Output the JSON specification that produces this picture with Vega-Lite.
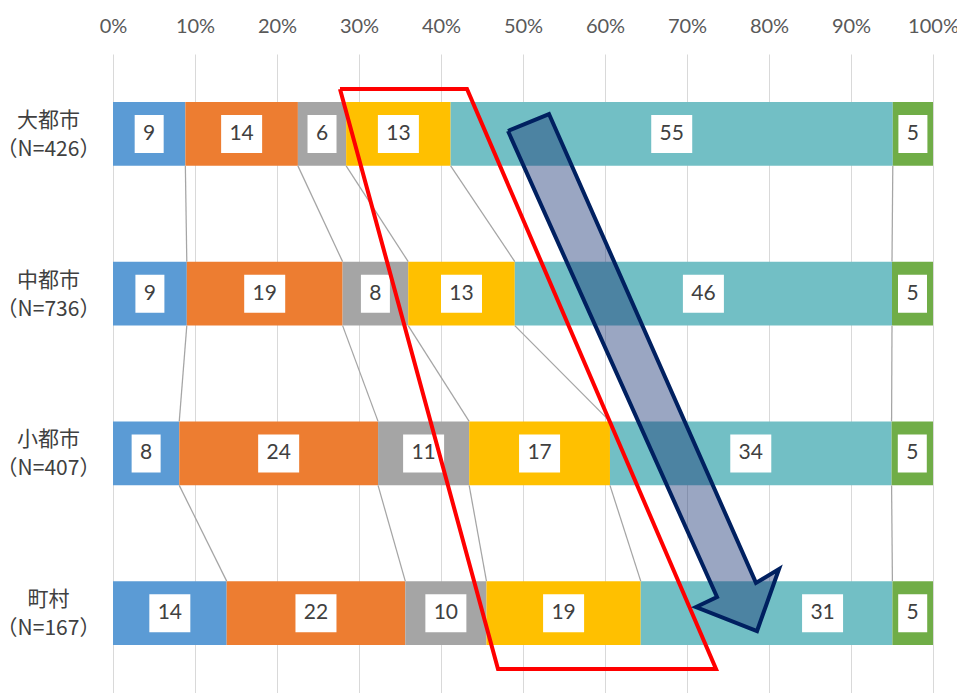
{
  "$schema": "https://vega.github.io/schema/vega-lite/v6.json",
  "width": 820,
  "height": 639,
  "autosize": {"type": "none"},
  "padding": {"left": 113, "top": 54, "right": 24, "bottom": 0},
  "background": "white",
  "config": {"view": {"stroke": null}, "font": "Lato"},
  "datasets": {
    "shares": [
      {"city": "大都市 （N=426）", "seg": 1, "value": 9},
      {"city": "大都市 （N=426）", "seg": 2, "value": 14},
      {"city": "大都市 （N=426）", "seg": 3, "value": 6},
      {"city": "大都市 （N=426）", "seg": 4, "value": 13},
      {"city": "大都市 （N=426）", "seg": 5, "value": 55},
      {"city": "大都市 （N=426）", "seg": 6, "value": 5},
      {"city": "中都市 （N=736）", "seg": 1, "value": 9},
      {"city": "中都市 （N=736）", "seg": 2, "value": 19},
      {"city": "中都市 （N=736）", "seg": 3, "value": 8},
      {"city": "中都市 （N=736）", "seg": 4, "value": 13},
      {"city": "中都市 （N=736）", "seg": 5, "value": 46},
      {"city": "中都市 （N=736）", "seg": 6, "value": 5},
      {"city": "小都市 （N=407）", "seg": 1, "value": 8},
      {"city": "小都市 （N=407）", "seg": 2, "value": 24},
      {"city": "小都市 （N=407）", "seg": 3, "value": 11},
      {"city": "小都市 （N=407）", "seg": 4, "value": 17},
      {"city": "小都市 （N=407）", "seg": 5, "value": 34},
      {"city": "小都市 （N=407）", "seg": 6, "value": 5},
      {"city": "町村 （N=167）", "seg": 1, "value": 14},
      {"city": "町村 （N=167）", "seg": 2, "value": 22},
      {"city": "町村 （N=167）", "seg": 3, "value": 10},
      {"city": "町村 （N=167）", "seg": 4, "value": 19},
      {"city": "町村 （N=167）", "seg": 5, "value": 31},
      {"city": "町村 （N=167）", "seg": 6, "value": 5}
    ],
    "outline": [
      {"i": 0, "x": 0.2768, "y": 0.719},
      {"i": 1, "x": 0.4317, "y": 0.719},
      {"i": 2, "x": 0.7354, "y": 4.35},
      {"i": 3, "x": 0.4695, "y": 4.35},
      {"i": 4, "x": 0.2768, "y": 0.719}
    ],
    "arrow": [
      {"i": 0, "x": 0.4817, "y": 0.982},
      {"i": 1, "x": 0.5317, "y": 0.876},
      {"i": 2, "x": 0.7841, "y": 3.811},
      {"i": 3, "x": 0.8122, "y": 3.724},
      {"i": 4, "x": 0.7854, "y": 4.112},
      {"i": 5, "x": 0.711, "y": 3.962},
      {"i": 6, "x": 0.7366, "y": 3.899},
      {"i": 7, "x": 0.4817, "y": 0.982}
    ]
  },
  "layer": [
    {
      "data": {"name": "shares"},
      "transform": [
        {"stack": "value", "groupby": ["city"], "sort": [{"field": "seg", "order": "ascending"}], "offset": "normalize", "as": ["x0", "x1"]},
        {"calculate": "(datum.x0 + datum.x1) / 2", "as": "xm"}
      ],
      "encoding": {
        "y": {
          "field": "city",
          "type": "nominal",
          "sort": null,
          "scale": {"paddingInner": 0.6, "paddingOuter": 0.3},
          "axis": {
            "title": null,
            "orient": "left",
            "domain": false,
            "ticks": false,
            "tickSize": 0,
            "labelExpr": "split(datum.label, ' ')",
            "labelAlign": "center",
            "labelBaseline": "middle",
            "labelPadding": 65,
            "labelOffset": -13,
            "labelFont": "Noto Sans CJK JP",
            "labelFontSize": 21,
            "labelLineHeight": 29,
            "labelColor": "#404040"
          }
        }
      },
      "layer": [
        {
          "mark": {"type": "bar"},
          "encoding": {
            "x": {
              "field": "x0",
              "type": "quantitative",
              "scale": {"domain": [0, 1], "nice": false, "zero": false},
              "axis": {
                "title": null,
                "orient": "top",
                "values": [0, 0.1, 0.2, 0.3, 0.4, 0.5, 0.6, 0.7, 0.8, 0.9, 1],
                "format": ".0%",
                "domain": false,
                "ticks": false,
                "tickSize": 0,
                "grid": true,
                "gridColor": "#D9D9D9",
                "gridWidth": 1,
                "labelFont": "Lato",
                "labelFontSize": 20,
                "labelColor": "#595959",
                "labelPadding": 18,
                "labelFlush": false
              }
            },
            "x2": {"field": "x1"},
            "color": {
              "field": "seg",
              "type": "nominal",
              "scale": {"domain": [1, 2, 3, 4, 5, 6], "range": ["#5B9BD5", "#ED7D31", "#A5A5A5", "#FFC000", "#72BFC5", "#70AD47"]},
              "legend": null
            }
          }
        },
        {
          "transform": [{"filter": "!(datum.city === '町村 （N=167）' && datum.seg === 5)"}],
          "layer": [
            {
              "mark": {"type": "point", "filled": true, "color": "white", "opacity": 1, "size": 1444, "strokeWidth": 0},
              "encoding": {
                "x": {"field": "xm", "type": "quantitative"},
                "shape": {
                  "condition": {"test": "datum.value >= 10", "value": "M-1.079,-1H1.079V1H-1.079Z"},
                  "value": "M-0.763,-1H0.763V1H-0.763Z"
                }
              }
            },
            {
              "mark": {"type": "text", "font": "Lato", "fontSize": 21, "color": "#404040", "baseline": "middle", "align": "center"},
              "encoding": {
                "x": {"field": "xm", "type": "quantitative"},
                "text": {"field": "value", "type": "quantitative"}
              }
            }
          ]
        },
        {
          "transform": [{"filter": "datum.city === '町村 （N=167）' && datum.seg === 5"}],
          "layer": [
            {
              "mark": {"type": "point", "filled": true, "color": "white", "opacity": 1, "size": 1444, "strokeWidth": 0, "xOffset": 56},
              "encoding": {
                "x": {"field": "xm", "type": "quantitative"},
                "shape": {"value": "M-1.079,-1H1.079V1H-1.079Z"}
              }
            },
            {
              "mark": {"type": "text", "font": "Lato", "fontSize": 21, "color": "#404040", "baseline": "middle", "align": "center", "xOffset": 56},
              "encoding": {
                "x": {"field": "xm", "type": "quantitative"},
                "text": {"field": "value", "type": "quantitative"}
              }
            }
          ]
        }
      ]
    },
    {
      "layer": [
        {
          "data": {"name": "shares"},
          "transform": [
            {"window": [{"op": "row_number", "as": "r"}], "groupby": ["seg"]},
            {"stack": "value", "groupby": ["city"], "sort": [{"field": "seg", "order": "ascending"}], "offset": "normalize", "as": ["x0", "x1"]},
            {"window": [{"op": "lead", "field": "x1", "as": "nx1"}, {"op": "lead", "field": "r", "as": "nr"}], "groupby": ["seg"], "sort": [{"field": "r", "order": "ascending"}]},
            {"filter": "datum.nr != null && datum.seg < 6"}
          ],
          "mark": {"type": "rule", "color": "#A5A5A5", "strokeWidth": 1.25, "yOffset": 32, "y2Offset": -32},
          "encoding": {
            "x": {"field": "x1", "type": "quantitative"},
            "x2": {"field": "nx1"},
            "y": {"field": "r", "type": "quantitative", "scale": {"domain": [0.5, 4.5], "reverse": true, "nice": false, "zero": false}, "axis": null},
            "y2": {"field": "nr"}
          }
        },
        {
          "data": {"name": "outline"},
          "mark": {"type": "line", "stroke": "#FF0000", "strokeWidth": 4, "strokeJoin": "miter"},
          "encoding": {
            "x": {"field": "x", "type": "quantitative"},
            "y": {"field": "y", "type": "quantitative", "scale": {"domain": [0.5, 4.5], "reverse": true, "nice": false, "zero": false}, "axis": null},
            "order": {"field": "i", "type": "quantitative"}
          }
        },
        {
          "data": {"name": "arrow"},
          "mark": {"type": "line", "stroke": "#002060", "strokeWidth": 4, "strokeJoin": "miter", "fill": "#1F3A78", "fillOpacity": 0.45},
          "encoding": {
            "x": {"field": "x", "type": "quantitative"},
            "y": {"field": "y", "type": "quantitative", "scale": {"domain": [0.5, 4.5], "reverse": true, "nice": false, "zero": false}, "axis": null},
            "order": {"field": "i", "type": "quantitative"}
          }
        }
      ]
    }
  ],
  "resolve": {"scale": {"y": "independent"}}
}
